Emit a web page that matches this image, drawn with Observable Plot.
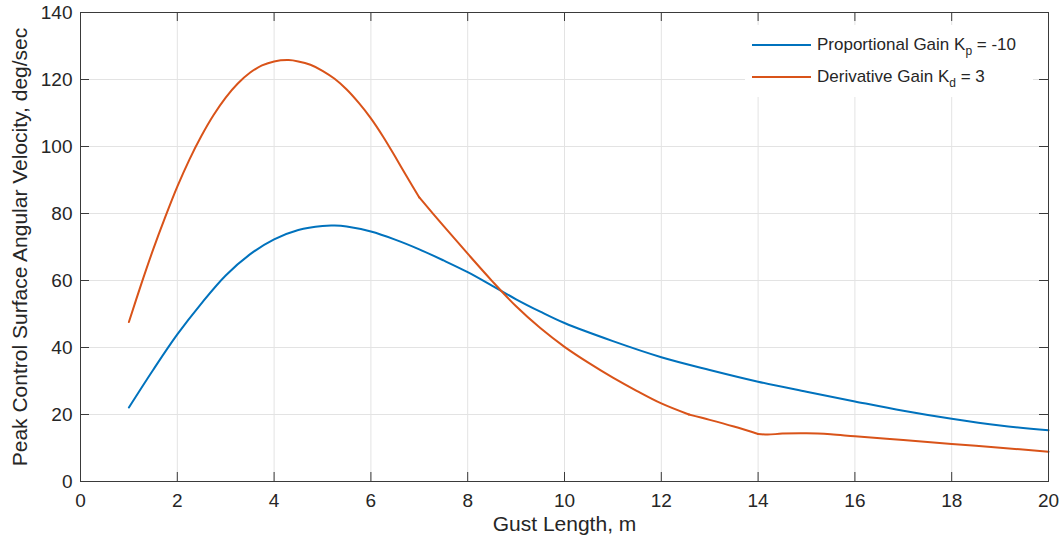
<!DOCTYPE html>
<html>
<head>
<meta charset="utf-8">
<script src="https://cdn.jsdelivr.net/npm/d3@7"></script>
<script src="https://cdn.jsdelivr.net/npm/@observablehq/plot@0.6"></script>
<style>
  body { margin: 0; background: #fff; font-family: "Liberation Sans", Arial, sans-serif; }
  #wrap { position: relative; width: 1063px; height: 546px; }
  #legend { position: absolute; left: 745px; top: 25px; width: 288px; height: 72px; background: #fff; font-size: 17px; color: #262626; }
  .row { position: absolute; left: 0; height: 20px; display: flex; align-items: center; white-space: nowrap; }
  .swatch { display: inline-block; width: 59px; height: 2px; margin-left: 7px; margin-right: 6px; }
  sub { font-size: 12px; vertical-align: -5px; line-height: 0; }
</style>
</head>
<body>
<div id="wrap"></div>
<script>
// ---- data ----
const xTicks = [0, 2, 4, 6, 8, 10, 12, 14, 16, 18, 20];
const yTicks = [0, 20, 40, 60, 80, 100, 120, 140];

const kpX = [1.0, 1.5, 2.0, 2.5, 3.0, 3.5, 4.0, 4.5, 5.0, 5.25, 5.5, 6.0, 6.5, 7.0, 7.5, 8.0, 8.5, 9.0, 9.5, 10.0, 11.0, 12.0, 13.0, 14.0, 15.0, 16.0, 17.0, 18.0, 19.0, 20.0];
const kpY = [22.1, 33.3, 43.9, 53.2, 61.5, 67.8, 72.3, 75.1, 76.3, 76.4, 76.1, 74.6, 72.2, 69.3, 66.0, 62.5, 58.5, 54.4, 50.7, 47.3, 41.9, 37.1, 33.3, 29.8, 26.8, 23.9, 21.1, 18.7, 16.7, 15.3];

const kdX = [1.0, 1.25, 1.5, 1.75, 2.0, 2.25, 2.5, 2.75, 3.0, 3.25, 3.5, 3.75, 4.0, 4.3, 4.5, 4.75, 5.0, 5.25, 5.5, 5.75, 6.0, 6.25, 6.5, 6.75, 7.0, 7.5, 8.0, 8.5, 9.0, 9.5, 10.0, 10.5, 11.0, 11.5, 12.0, 12.57, 13.0, 13.5, 14.0, 14.2, 14.5, 15.0, 15.5, 16.0, 17.0, 18.0, 19.0, 20.0];
const kdY = [47.6, 58.7, 69.2, 78.9, 88.0, 96.1, 103.2, 109.4, 114.6, 118.8, 122.0, 124.2, 125.4, 125.8, 125.4, 124.4, 122.6, 120.2, 117.0, 113.0, 108.4, 103.0, 97.0, 90.8, 84.8, 76.3, 68.0, 59.9, 52.3, 45.8, 40.2, 35.4, 31.0, 27.0, 23.3, 20.0, 18.4, 16.4, 14.2, 14.0, 14.3, 14.4, 14.1, 13.5, 12.4, 11.2, 10.1, 8.9];
// x positions where the derivative-gain curve has visible corners
const kdCorners = [7.0, 12.57, 14.0];

const seriesNames = ["Proportional Gain K_p = -10", "Derivative Gain K_d = 3"];
const seriesColors = ["#0072BD", "#D95319"];
const xLabel = "Gust Length, m";
const yLabel = "Peak Control Surface Angular Velocity, deg/sec";

// ---- build ----
const kp = kpX.map((x, i) => ({x, y: kpY[i]}));
// split the Kd curve into smooth pieces at its corners (corner points shared)
const kd = [];
kdX.forEach((x, i) => {
  const seg = kdCorners.filter(c => x > c).length;
  kd.push({x, y: kdY[i], seg});
  if (kdCorners.includes(x)) kd.push({x, y: kdY[i], seg: seg + 1});
});

const W = 1063, H = 546, mL = 80, mR = 15, mT = 12, mB = 65;
const innerW = W - mL - mR, innerH = H - mT - mB;
const axisColor = "#3a3a3a";
const tickLen = 9;

const chart = Plot.plot({
  width: W, height: H,
  marginLeft: mL, marginRight: mR, marginTop: mT, marginBottom: mB,
  style: { fontFamily: "'Liberation Sans', Arial, sans-serif", fontSize: "19px", color: "#262626", background: "#fff" },
  x: { domain: [0, 20] },
  y: { domain: [0, 140] },
  marks: [
    Plot.gridX(xTicks, { stroke: "#e3e3e3", strokeOpacity: 1 }),
    Plot.gridY(yTicks, { stroke: "#e3e3e3", strokeOpacity: 1 }),
    Plot.line(kp, { x: "x", y: "y", stroke: seriesColors[0], strokeWidth: 2, curve: "catmull-rom" }),
    Plot.line(kd, { x: "x", y: "y", z: "seg", stroke: seriesColors[1], strokeWidth: 2, curve: "catmull-rom" }),
    Plot.frame({ stroke: axisColor, strokeWidth: 1 }),
    Plot.tickX(xTicks, { x: d => d, insetTop: innerH - tickLen, stroke: axisColor }),
    Plot.tickX(xTicks, { x: d => d, insetBottom: innerH - tickLen, stroke: axisColor }),
    Plot.tickY(yTicks, { y: d => d, insetRight: innerW - tickLen, stroke: axisColor }),
    Plot.tickY(yTicks, { y: d => d, insetLeft: innerW - tickLen, stroke: axisColor }),
    Plot.axisX(xTicks, { tickSize: 0, tickPadding: 12, label: null, fill: "#262626" }),
    Plot.axisY(yTicks, { tickSize: 0, tickPadding: 8, label: null, fill: "#262626" }),
    Plot.text([xLabel], { frameAnchor: "bottom", dy: 49, fontSize: 21, fill: "#262626" }),
    Plot.text([yLabel], { frameAnchor: "left", textAnchor: "middle", dx: -60, rotate: -90, fontSize: 21, fill: "#262626" })
  ]
});

const wrap = document.getElementById("wrap");
wrap.appendChild(chart);

// legend
const legend = document.createElement("div");
legend.id = "legend";
seriesNames.forEach((name, i) => {
  const row = document.createElement("div");
  row.className = "row";
  row.style.top = (10 + i * 32) + "px";
  const sw = document.createElement("span");
  sw.className = "swatch";
  sw.style.background = seriesColors[i];
  row.appendChild(sw);
  const label = document.createElement("span");
  const m = name.match(/^(.*)K_(\w)(.*)$/);
  label.innerHTML = m[1] + "K<sub>" + m[2] + "</sub>" + m[3];
  row.appendChild(label);
  legend.appendChild(row);
});
wrap.appendChild(legend);
</script>
</body>
</html>
